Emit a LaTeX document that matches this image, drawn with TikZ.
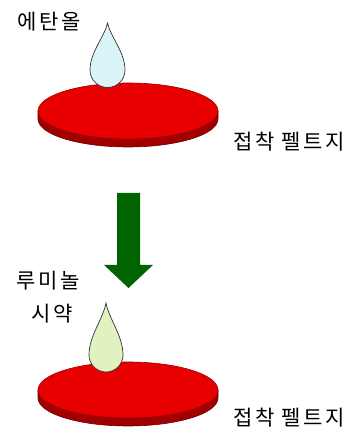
\documentclass[tikz,border=0pt]{standalone}
\usepackage{fontspec}
\usepackage{tikz}
\usetikzlibrary{calc, positioning}

\newfontfamily\krfont{Noto Sans CJK KR}[LetterSpace=12]

\definecolor{feltred}{RGB}{232,0,0}
\definecolor{feltdark}{RGB}{150,0,0}
\definecolor{ethanolblue}{RGB}{218,244,248}
\definecolor{luminolgreen}{RGB}{226,241,192}
\definecolor{stepgreen}{RGB}{0,100,0}

\begin{document}
\begin{tikzpicture}[
    x=1pt, y=1pt,
    krtext/.style={font=\krfont\fontsize{21}{25}\selectfont, inner sep=0pt, text=black},
    feltface/.style={fill=feltred, draw=feltdark, line width=0.6pt},
    feltrim/.style={fill=feltdark!90!red, draw=feltdark!70!black, line width=0.6pt},
    drop/.style={draw=black!80, line width=0.7pt}
]
    \useasboundingbox (0,0) rectangle (358,430);

    % Felt discs (centre of the top face)
    \coordinate (felt1) at (128,319);
    \coordinate (felt2) at (128,40);

    \begin{scope}[shift={(felt1)}]
        \filldraw[feltrim] (-90,0) -- (-90,-8) arc[start angle=180, end angle=360, x radius=90, y radius=28] -- (90,0) -- cycle;
        \filldraw[feltface] (0,0) ellipse [x radius=90, y radius=28];
    \end{scope}

    \begin{scope}[shift={(felt2)}]
        \filldraw[feltrim] (-90,0) -- (-90,-8) arc[start angle=180, end angle=360, x radius=90, y radius=28] -- (90,0) -- cycle;
        \filldraw[feltface] (0,0) ellipse [x radius=90, y radius=28];
    \end{scope}

    % Drops (centre of the round part)
    \coordinate (drop1) at (107.5,360);
    \coordinate (drop2) at (106,75);

    \begin{scope}[shift={(drop1)}]
        \filldraw[drop, fill=ethanolblue] (0,47) .. controls (-3,33) and (-17.5,18) .. (-17.5,0)
            arc[start angle=180, end angle=360, radius=17.5]
            .. controls (17.5,18) and (3,33) .. (0,47) -- cycle;
    \end{scope}

    \begin{scope}[shift={(drop2)}]
        \filldraw[drop, fill=luminolgreen] (0,52) .. controls (-3,36) and (-17,19) .. (-17,0)
            arc[start angle=180, end angle=360, radius=17]
            .. controls (17,19) and (3,36) .. (0,52) -- cycle;
    \end{scope}

    % Step arrow
    \fill[stepgreen] (117,237) -- (140,237) -- (140,165) -- (153,165) -- (128.5,142)
        -- (104,165) -- (117,165) -- cycle;

    % Labels
    \node[krtext] (ethanol) at (49,408) {에탄올};
    \node[krtext] (felt1lbl) at (289,288) {접착 펠트지};
    \node[krtext] (luminol) at (48,149) {루미놀};
    \node[krtext, below=13pt of luminol, xshift=4pt] (reagent) {시약};
    \node[krtext] (felt2lbl) at (289,12) {접착 펠트지};

\end{tikzpicture}
\end{document}
